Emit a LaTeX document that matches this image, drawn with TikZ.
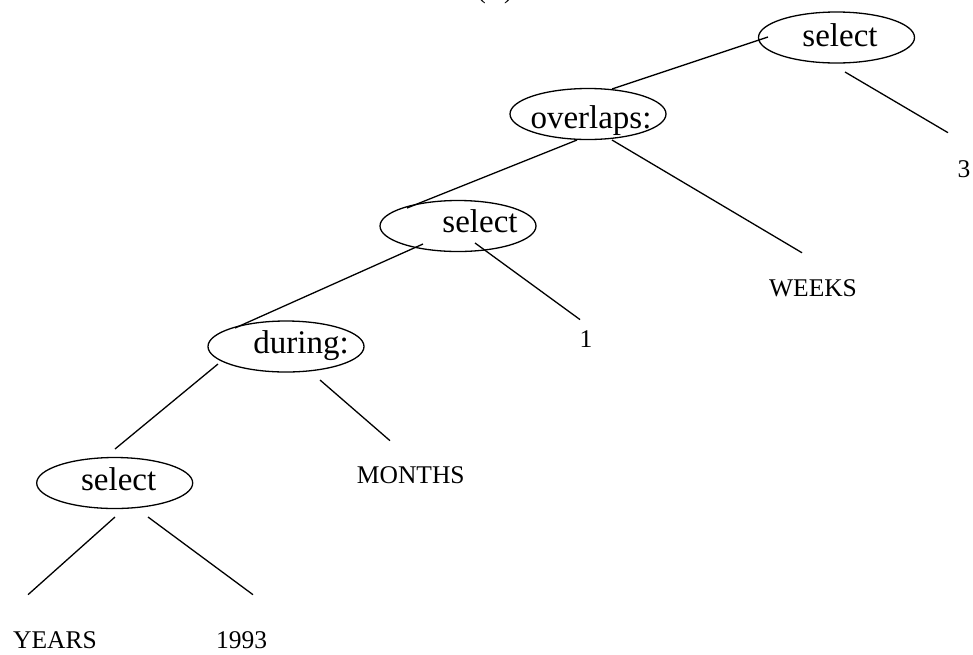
\documentclass[tikz,border=0pt]{standalone}
\usepackage{fontspec}
\setmainfont{Liberation Serif}
\usetikzlibrary{shapes.geometric,calc}
\newcommand\elltxt[3]{\smash{\makebox[0pt]{\hspace*{#1}\raisebox{#2}{#3}}}}
\tikzset{
  opnode/.style={ellipse, draw, line width=1.3pt, minimum width=156pt, minimum height=51pt, inner sep=0pt, font=\fontsize{33}{40}\selectfont},
  leaf/.style={anchor=base, inner sep=0pt, font=\fontsize{25.5}{30}\selectfont},
  edge/.style={line width=1.3pt}
}
\begin{document}
\begin{tikzpicture}[x=1pt,y=-1pt]
\useasboundingbox[fill=white] (0,0) rectangle (973,654);
\node[leaf] (title) at (495,-1.5) {(A)};
% operator nodes
\node[opnode] (top) at (836.5,37.5) {\elltxt{7pt}{-9pt}{select}};
\node[opnode] (ov) at (588,114) {\elltxt{6pt}{-14pt}{overlaps:}};
\node[opnode] (ms) at (458,226) {\elltxt{44pt}{-6.5pt}{select}};
\node[opnode] (du) at (286,346.5) {\elltxt{30pt}{-7pt}{during:}};
\node[opnode] (bs) at (114.7,483) {\elltxt{8pt}{-7pt}{select}};
% leaves
\node[leaf] (three) at (964,177) {3};
\node[leaf] (weeks) at (813,296.5) {WEEKS};
\node[leaf] (one) at (586,347) {1};
\node[leaf] (months) at (410.8,483.3) {MONTHS};
\node[leaf] (years) at (55,648) {YEARS};
\node[leaf] (yr) at (241.7,648) {1993};
% connectors
\draw[edge] ($(ov)+(24,-25)$) -- ($(top)+(-68.5,-0.5)$);
\draw[edge] ($(top)+(8.5,34.5)$) -- ($(three)+(-16,-36)$);
\draw[edge] ($(ov)+(-11,26)$) -- ($(ms)+(-51,-18)$);
\draw[edge] ($(ov)+(24,26)$) -- ($(weeks)+(-11,-35.5)$);
\draw[edge] ($(ms)+(-35,18)$) -- ($(du)+(-51,-18.5)$);
\draw[edge] ($(ms)+(17,17)$) -- ($(one)+(-6,-19)$);
\draw[edge] ($(du)+(-68,17.5)$) -- ($(bs)+(0.3,-34)$);
\draw[edge] ($(du)+(34,33.5)$) -- ($(months)+(-20.8,-34.3)$);
\draw[edge] ($(bs)+(0.3,34)$) -- ($(years)+(-27,-45)$);
\draw[edge] ($(bs)+(33.3,34)$) -- ($(yr)+(11.3,-45)$);
\end{tikzpicture}
\end{document}
